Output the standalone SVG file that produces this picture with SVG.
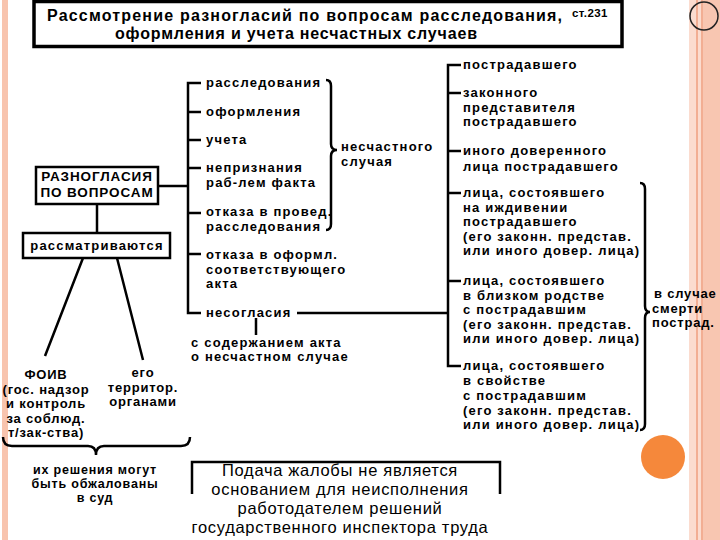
<svg xmlns="http://www.w3.org/2000/svg" width="720" height="540" viewBox="0 0 720 540">
<style>
.t{font-family:"Liberation Sans",Arial,sans-serif;font-weight:bold;font-size:13px;letter-spacing:1.2px;fill:#000}
.s{font-family:"Liberation Sans",Arial,sans-serif;font-weight:bold;font-size:13px;letter-spacing:0.8px;fill:#000}
.m{text-anchor:middle}
.ttl{font-family:"Liberation Sans",Arial,sans-serif;font-weight:bold;font-size:16px;fill:#000}
.n{font-family:"Liberation Sans",Arial,sans-serif;font-size:16.5px;letter-spacing:0.7px;fill:#000;text-anchor:middle}
.c{stroke:#000;stroke-width:2.5;fill:none}
.b{stroke:#000;stroke-width:2.5;fill:#fff}
</style>
<rect width="720" height="540" fill="#fff"/>
<g id="decor">
<rect x="2" y="0" width="6" height="540" fill="#F8C4AE"/>
<rect x="689" y="0" width="31" height="540" fill="#FBDCCF"/>
<rect x="703" y="0" width="17" height="540" fill="#F8C6B1"/>
<rect x="696" y="0" width="2" height="540" fill="#F2AE93"/>
<rect x="701" y="0" width="2" height="540" fill="#F2AE93"/>
<circle cx="704" cy="16" r="14" fill="none" stroke="#222" stroke-width="1.5"/>
<circle cx="663" cy="457" r="22" fill="#F5883B"/>
</g>
<g id="title">
<rect x="34" y="1.5" width="588" height="45" fill="#fff" stroke="#000" stroke-width="3.5"/>
<text class="ttl" x="47" y="21" textLength="515" lengthAdjust="spacing">Рассмотрение разногласий по вопросам расследования,</text>
<text class="ttl" x="115" y="39" textLength="362" lengthAdjust="spacing">оформления и учета несчастных случаев</text>
<text class="s" x="572" y="17" style="font-size:11.5px;letter-spacing:0.4px">ст.231</text>
</g>
<g id="connectors">
<path class="c" d="M158,186 H188"/>
<path class="c" d="M201,83 H188 V313 H201"/>
<path class="c" d="M188,112 H201 M188,140 H201 M188,168 H201 M188,213 H201 M188,254 H201"/>
<path class="c" d="M297,313 H448"/>
<path class="c" d="M256,318 V335"/>
<path class="c" d="M461,65 H448 V366 H461"/>
<path class="c" d="M448,93 H461 M448,151 H461 M448,193 H461 M448,281 H461"/>
<path class="c" d="M97,204 V233"/>
<path class="c" d="M83,258 L45,356 M117,258 L143,360"/>
<path class="c" d="M326,80 Q331,80 331,86 L331,144 Q331,150 337,150 Q331,150 331,156 L331,224 Q331,230 326,230"/>
<path class="c" d="M640,183 Q645,183 645,189 L645,306 Q645,312 650,312 Q645,312 645,318 L645,424 Q645,430 640,430"/>
<path class="c" d="M3,437 Q3,446 12,446 L88,446 Q96,446 96,455 Q96,446 104,446 L181,446 Q190,446 190,437"/>
</g>
<g id="node-raznoglasiya">
<rect class="b" x="36" y="167" width="122" height="37"/>
<text class="t m" x="97" y="181" style="font-size:13.5px;letter-spacing:0.9px">РАЗНОГЛАСИЯ</text>
<text class="t m" x="97" y="197" style="font-size:13.5px;letter-spacing:0.9px">ПО ВОПРОСАМ</text>
</g>
<g id="node-rassmatr">
<rect class="b" x="23" y="233" width="147" height="25"/>
<text class="t m" x="97" y="250">рассматриваются</text>
</g>
<g id="node-branches-left">
<text class="t" x="206" y="87">расследования</text>
<text class="t" x="206" y="116">оформления</text>
<text class="t" x="206" y="144">учета</text>
<text class="t" x="206" y="172">непризнания</text>
<text class="t" x="206" y="187">раб-лем факта</text>
<text class="t" x="206" y="216">отказа в провед.</text>
<text class="t" x="206" y="230.5">расследования</text>
<text class="t" x="206" y="259">отказа в оформл.</text>
<text class="t" x="206" y="273.5">соответствующего</text>
<text class="t" x="206" y="288">акта</text>
<text class="t" x="206" y="317">несогласия</text>
</g>
<g id="node-neschast">
<text class="t" x="341" y="151">несчастного</text>
<text class="t" x="341" y="165.5">случая</text>
</g>
<g id="node-soderzh">
<text class="t" x="191" y="346.5">с содержанием акта</text>
<text class="t" x="191" y="361">о несчастном случае</text>
</g>
<g id="node-branches-right">
<text class="t" x="463" y="69">пострадавшего</text>
<text class="t" x="463" y="97">законного</text>
<text class="t" x="463" y="111.5">представителя</text>
<text class="t" x="463" y="126">пострадавшего</text>
<text class="t" x="463" y="155">иного доверенного</text>
<text class="t" x="463" y="171">лица пострадавшего</text>
<text class="t" x="463" y="197">лица, состоявшего</text>
<text class="t" x="463" y="211.5">на иждивении</text>
<text class="t" x="463" y="226">пострадавшего</text>
<text class="t" x="463" y="240.5">(его законн. представ.</text>
<text class="t" x="463" y="255">или иного довер. лица)</text>
<text class="t" x="463" y="285">лица, состоявшего</text>
<text class="t" x="463" y="299.5">в близком родстве</text>
<text class="t" x="463" y="314">с пострадавшим</text>
<text class="t" x="463" y="328.5">(его законн. представ.</text>
<text class="t" x="463" y="343">или иного довер. лица)</text>
<text class="t" x="463" y="370">лица, состоявшего</text>
<text class="t" x="463" y="385">в свойстве</text>
<text class="t" x="463" y="400">с пострадавшим</text>
<text class="t" x="463" y="414.5">(его законн. представ.</text>
<text class="t" x="463" y="429">или иного довер. лица)</text>
</g>
<g id="node-smert">
<text class="s" x="654" y="298">в случае</text>
<text class="s" x="652" y="312.5">смерти</text>
<text class="s" x="652" y="327">пострад.</text>
</g>
<g id="node-foiv">
<text class="s m" x="46" y="379">ФОИВ</text>
<text class="s m" x="46" y="393.5">(гос. надзор</text>
<text class="s m" x="46" y="408">и контроль</text>
<text class="s m" x="46" y="422.5">за соблюд.</text>
<text class="s m" x="46" y="437">т/зак-ства)</text>
</g>
<g id="node-territ">
<text class="s m" x="143" y="377">его</text>
<text class="s m" x="143" y="391.5">территор.</text>
<text class="s m" x="143" y="406">органами</text>
</g>
<g id="node-sud">
<text class="s m" x="95" y="474" style="font-size:12.5px">их решения могут</text>
<text class="s m" x="95" y="488" style="font-size:12.5px">быть обжалованы</text>
<text class="s m" x="95" y="502" style="font-size:12.5px">в суд</text>
</g>
<g id="node-zhaloba">
<path d="M192,494 V462 H500 V494" fill="none" stroke="#000" stroke-width="2.5"/>
<text class="n" x="340" y="476">Подача жалобы не является</text>
<text class="n" x="340" y="495">основанием для неисполнения</text>
<text class="n" x="340" y="514">работодателем решений</text>
<text class="n" x="340" y="533">государственного инспектора труда</text>
</g>
</svg>
